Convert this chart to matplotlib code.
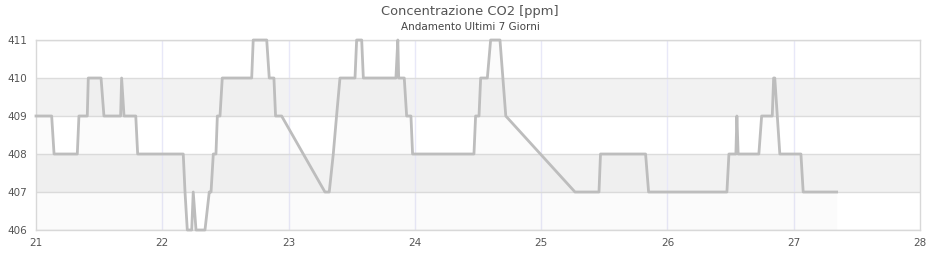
import matplotlib
matplotlib.use('Agg')
import matplotlib.pyplot as plt

# CO2 readings (day of month, ppm)
days = [21.0, 21.124, 21.143, 21.327, 21.34, 21.406, 21.414, 21.515, 21.538, 21.67,
        21.678, 21.697, 21.79, 21.805, 22.166, 22.18, 22.198, 22.233, 22.245, 22.267,
        22.338, 22.372, 22.386, 22.404, 22.425, 22.436, 22.457, 22.475, 22.708, 22.72,
        22.827, 22.847, 22.884, 22.897, 22.945, 23.288, 23.322, 23.354, 23.38, 23.407,
        23.526, 23.539, 23.579, 23.592, 23.85, 23.865, 23.872, 23.916, 23.935, 23.969,
        23.982, 24.468, 24.481, 24.508, 24.521, 24.574, 24.6, 24.674, 24.72, 25.268,
        25.458, 25.47, 25.827, 25.851, 26.471, 26.487, 26.542, 26.55, 26.56, 26.724,
        26.746, 26.83, 26.841, 26.85, 26.87, 26.89, 27.057, 27.075, 27.34]
ppm = [409, 409, 408, 408, 409, 409, 410, 410, 409, 409,
       410, 409, 409, 408, 408, 407, 406, 406, 407, 406,
       406, 407, 407, 408, 408, 409, 409, 410, 410, 411,
       411, 410, 410, 409, 409, 407, 407, 408, 409, 410,
       410, 411, 411, 410, 410, 411, 410, 410, 409, 409,
       408, 408, 409, 409, 410, 410, 411, 411, 409, 407,
       407, 408, 408, 407, 407, 408, 408, 409, 408, 408,
       409, 409, 410, 410, 409, 408, 408, 407, 407]

xticks = [21, 22, 23, 24, 25, 26, 27, 28]
yticks = [406, 407, 408, 409, 410, 411]

fig = plt.figure(figsize=(9.4, 2.6), dpi=100)
ax = fig.add_axes([36/940, 30/260, 884/940, 190/260])

# alternating bands
for lo in (407, 409):
    ax.axhspan(lo, lo + 1, color='#f2f2f2', zorder=0, lw=0)

for x in xticks[1:-1]:
    ax.axvline(x, color='#e8e8f8', lw=1, zorder=1)
for y in yticks:
    ax.axhline(y, color='#dcdcdc', lw=1, zorder=1)

ax.fill_between(days, ppm, 406, color='#c0c0c0', alpha=0.06, lw=0, zorder=2)
ax.plot(days, ppm, color='#bdbdbd', lw=2, zorder=3, clip_on=False)

ax.set_xlim(21, 28)
ax.set_ylim(406, 411)
ax.set_xticks(xticks)
ax.set_yticks(yticks)
ax.tick_params(length=0, labelsize=7.5, colors='#555555', pad=6)
for s in ax.spines.values():
    s.set_color('#d8d8d8')
    s.set_linewidth(1)

fig.text(0.5, 1 - 11/260, 'Concentrazione CO2 [ppm]', ha='center', va='center',
         fontsize=9.4, color='#555555')
fig.text(0.5, 1 - 27/260, 'Andamento Ultimi 7 Giorni', ha='center', va='center',
         fontsize=7.5, color='#444444')

fig.savefig('out.png', dpi=100)
